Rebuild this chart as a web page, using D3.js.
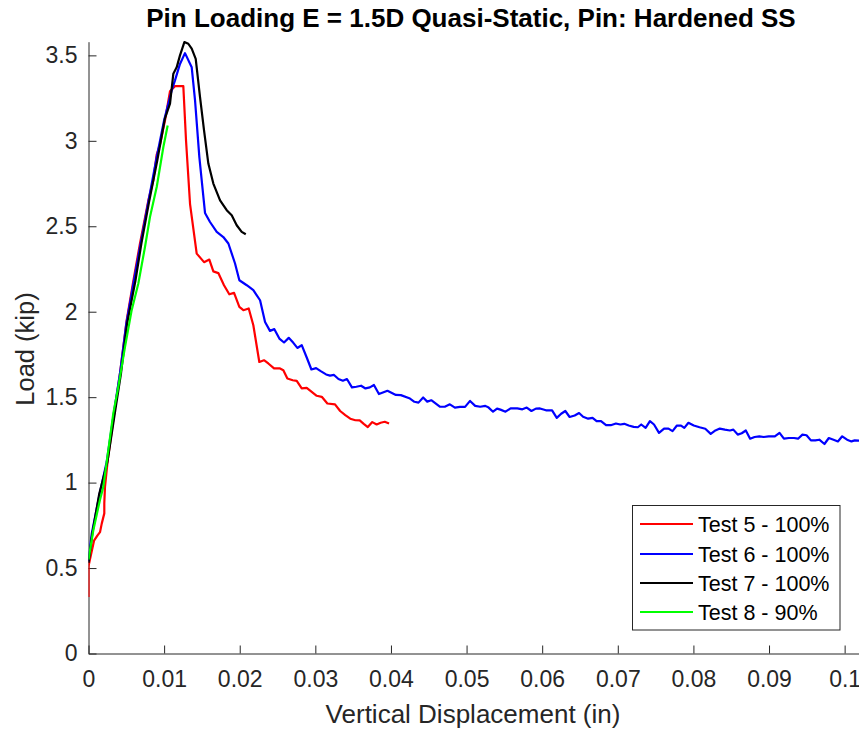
<!DOCTYPE html>
<html><head><meta charset="utf-8">
<script src="https://cdn.jsdelivr.net/npm/d3@7"></script>
<style>
html,body{margin:0;padding:0;background:#fff;}
svg{display:block;font-family:"Liberation Sans",Arial,Helvetica,sans-serif;}
</style></head>
<body>
<svg id="chart" width="859" height="730"></svg>
<script>
// ---------- data ----------
const seriesNames = ["Test 5 - 100%","Test 6 - 100%","Test 7 - 100%","Test 8 - 90%"];
const seriesColors = ["#ff0000","#0000ff","#000000","#00ff00"];

const test5X = [0,0,0.00029,0.00073,0.00117,0.00152,0.00175,0.00209,0.00209,0.00218,0.00254,0.00351,0.00417,0.00505,0.00593,0.00681,0.00791,0.00857,0.00902,0.00946,0.01012,0.01078,0.01144,0.01254,0.0129,0.01343,0.01431,0.01528,0.01598,0.01651,0.01717,0.01792,0.01862,0.01925,0.01995,0.02048,0.02119,0.0218,0.02259,0.02321,0.02378,0.02454,0.02533,0.02577,0.0263,0.02701,0.02754,0.0282,0.02886,0.02952,0.03018,0.03085,0.03159,0.0326,0.03328,0.03396,0.03462,0.03529,0.03587,0.0364,0.03694,0.03753,0.03811,0.03864,0.03918,0.03975];
const test5Y = [0.33,0.51,0.57,0.66,0.69,0.71,0.76,0.82,0.88,0.975,1.13,1.44,1.64,1.95,2.18,2.40,2.65,2.77,2.92,2.98,3.12,3.29,3.32,3.32,3.00,2.63,2.34,2.29,2.305,2.236,2.226,2.155,2.102,2.11,2.028,2.009,2.019,1.921,1.706,1.716,1.697,1.668,1.668,1.658,1.609,1.599,1.595,1.551,1.554,1.531,1.508,1.502,1.463,1.458,1.419,1.395,1.374,1.365,1.364,1.344,1.325,1.354,1.34,1.35,1.356,1.346];

const test6X = [0,0.00042,0.0015,0.0024,0.0035,0.0042,0.005,0.006,0.0069,0.0079,0.009,0.01,0.011,0.01144,0.0121,0.01276,0.01365,0.01409,0.01466,0.01541,0.01607,0.01696,0.01783,0.0185,0.01938,0.01995,0.02093,0.0218,0.02269,0.02335,0.024,0.02458,0.02524,0.02586,0.02648,0.02709,0.02762,0.0282,0.02886,0.02948,0.0301,0.03071,0.03142,0.03194,0.03247,0.03306,0.03364,0.03418,0.03484,0.03542,0.03605,0.03663,0.03721,0.03775,0.03841,0.03954,0.04065,0.04131,0.04243,0.0431,0.04364,0.04426,0.0448,0.04533,0.04646,0.04712,0.04779,0.04846,0.04913,0.0498,0.05046,0.05114,0.0518,0.05248,0.05292,0.0535,0.05403,0.05448,0.05515,0.05582,0.05671,0.05738,0.05796,0.05858,0.05917,0.05971,0.0605,0.06131,0.06193,0.06251,0.06306,0.06363,0.0643,0.06488,0.06541,0.06608,0.06666,0.0672,0.06778,0.06845,0.06907,0.06975,0.07033,0.07086,0.07144,0.0721,0.07265,0.0731,0.07368,0.07425,0.07479,0.07545,0.07612,0.0767,0.07724,0.07782,0.07836,0.0788,0.07934,0.08005,0.08081,0.08157,0.08229,0.08291,0.08349,0.08416,0.08483,0.08528,0.08586,0.08639,0.08693,0.0875,0.08809,0.08872,0.08929,0.08996,0.09077,0.09139,0.09197,0.09263,0.09331,0.09384,0.09442,0.09496,0.09554,0.09612,0.09665,0.09733,0.09791,0.09853,0.09911,0.09968,0.10032,0.1009,0.10134,0.10192];
const test6Y = [0.54,0.70,0.94,1.12,1.45,1.65,1.93,2.18,2.40,2.64,2.90,3.12,3.295,3.354,3.45,3.513,3.43,3.237,2.905,2.578,2.525,2.467,2.437,2.399,2.282,2.184,2.155,2.126,2.067,1.94,1.888,1.898,1.843,1.82,1.847,1.818,1.788,1.804,1.732,1.662,1.67,1.652,1.633,1.626,1.63,1.606,1.596,1.606,1.557,1.561,1.567,1.551,1.557,1.571,1.518,1.537,1.513,1.512,1.494,1.473,1.468,1.498,1.474,1.482,1.444,1.444,1.458,1.439,1.443,1.443,1.478,1.449,1.444,1.449,1.439,1.415,1.433,1.427,1.415,1.434,1.434,1.429,1.439,1.419,1.433,1.434,1.423,1.423,1.379,1.403,1.419,1.384,1.393,1.407,1.385,1.374,1.379,1.36,1.36,1.336,1.336,1.346,1.34,1.344,1.334,1.326,1.324,1.34,1.32,1.36,1.34,1.291,1.316,1.316,1.301,1.334,1.334,1.32,1.35,1.334,1.324,1.315,1.285,1.305,1.316,1.31,1.305,1.31,1.281,1.289,1.305,1.257,1.267,1.271,1.267,1.271,1.271,1.291,1.257,1.261,1.261,1.257,1.281,1.277,1.247,1.247,1.251,1.226,1.261,1.251,1.241,1.271,1.251,1.241,1.247,1.245];

const test7X = [0,0.0005,0.0014,0.0025,0.0036,0.0043,0.0051,0.0062,0.007,0.008,0.0091,0.0101,0.01078,0.01122,0.01166,0.0121,0.01268,0.0132,0.01365,0.01418,0.01475,0.01528,0.01585,0.01651,0.0174,0.01828,0.01894,0.0196,0.02026,0.0208];
const test7Y = [0.53,0.70,0.93,1.12,1.44,1.64,1.93,2.18,2.40,2.64,2.886,3.13,3.217,3.393,3.43,3.50,3.578,3.568,3.539,3.48,3.256,3.061,2.867,2.75,2.652,2.594,2.564,2.506,2.467,2.453];

const test8X = [0,0.00063,0.00152,0.00196,0.00262,0.00328,0.00394,0.00483,0.00571,0.00659,0.00747,0.00813,0.00902,0.0099,0.01047];
const test8Y = [0.55,0.72,0.90,0.975,1.19,1.405,1.56,1.794,2.009,2.165,2.379,2.554,2.73,2.964,3.09];

const xTicks = [0,0.01,0.02,0.03,0.04,0.05,0.06,0.07,0.08,0.09,0.1];
const xTickLabels = ["0","0.01","0.02","0.03","0.04","0.05","0.06","0.07","0.08","0.09","0.1"];
const yTicks = [0,0.5,1,1.5,2,2.5,3,3.5];
const yTickLabels = ["0","0.5","1","1.5","2","2.5","3","3.5"];
const xDomain = [0,0.1019];
const yDomain = [0,3.58];

const titleText = "Pin Loading E = 1.5D Quasi-Static, Pin: Hardened SS";
const xLabelText = "Vertical Displacement (in)";
const yLabelText = "Load (kip)";

// ---------- drawing ----------
(function(){
const svg = d3.select("#chart");
const axisColor = "#262626";
const pL = 88.5, pR = 859, pT = 41.7, pB = 653.5;

const x = d3.scaleLinear().domain(xDomain).range([pL, pR]);
const y = d3.scaleLinear().domain(yDomain).range([pB, pT]);

svg.append("defs").append("clipPath").attr("id","clip")
  .append("rect").attr("x",pL).attr("y",pT-3).attr("width",pR-pL).attr("height",pB-pT+3);

const xAxis = d3.axisBottom(x).tickValues(xTicks)
  .tickFormat((d,i)=>xTickLabels[i]).tickSizeInner(-8).tickSizeOuter(0).tickPadding(17);
const gx = svg.append("g").attr("transform",`translate(0,${pB})`).call(xAxis);
gx.select(".domain").attr("stroke",axisColor).attr("stroke-width",1);
gx.selectAll(".tick line").attr("stroke",axisColor);
gx.selectAll(".tick text").attr("fill",axisColor).attr("font-size",23)
  .attr("font-family","Liberation Sans, Arial, sans-serif");

const yAxis = d3.axisLeft(y).tickValues(yTicks)
  .tickFormat((d,i)=>yTickLabels[i]).tickSizeInner(-8).tickSizeOuter(0).tickPadding(11);
const gy = svg.append("g").attr("transform",`translate(${pL},0)`).call(yAxis);
gy.select(".domain").attr("stroke",axisColor).attr("stroke-width",1);
gy.selectAll(".tick line").attr("stroke",axisColor);
gy.selectAll(".tick text").attr("fill",axisColor).attr("font-size",23)
  .attr("font-family","Liberation Sans, Arial, sans-serif");

const allX = [test5X,test6X,test7X,test8X];
const allY = [test5Y,test6Y,test7Y,test8Y];
const line = d3.line().x(d=>x(d[0])).y(d=>y(d[1]));
const plotG = svg.append("g").attr("clip-path","url(#clip)");
allX.forEach((xs,i)=>{
  const pts = xs.map((v,j)=>[v, allY[i][j]]);
  plotG.append("path").datum(pts).attr("d",line)
    .attr("fill","none").attr("stroke",seriesColors[i]).attr("stroke-width",2.2)
    .attr("stroke-linejoin","round");
});

svg.append("text").attr("x",471).attr("y",27).attr("text-anchor","middle")
  .attr("font-size",26).attr("font-weight","bold").attr("fill","#000").text(titleText);
svg.append("text").attr("x",473).attr("y",723).attr("text-anchor","middle")
  .attr("font-size",26).attr("fill",axisColor).text(xLabelText);
svg.append("text").attr("transform",`translate(33.5,349) rotate(-90)`)
  .attr("text-anchor","middle").attr("font-size",25.5).attr("fill",axisColor).text(yLabelText);

const lg = svg.append("g");
lg.append("rect").attr("x",632.5).attr("y",505.5).attr("width",207.5).attr("height",124.5)
  .attr("fill","#fff").attr("stroke",axisColor).attr("stroke-width",1);
const rowY = [524,554,583,612];
seriesNames.forEach((n,i)=>{
  lg.append("line").attr("x1",640).attr("x2",693).attr("y1",rowY[i]).attr("y2",rowY[i])
    .attr("stroke",seriesColors[i]).attr("stroke-width",2.2);
  lg.append("text").attr("x",698).attr("y",rowY[i]).attr("dy","0.36em")
    .attr("font-size",21.5).attr("fill","#000").text(n);
});
})();
</script>
</body></html>
